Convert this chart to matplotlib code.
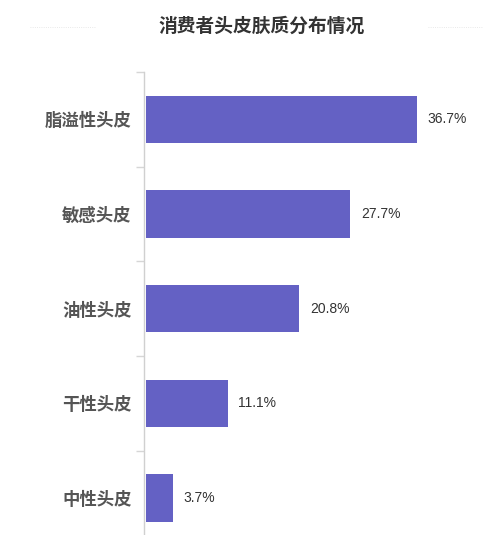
import matplotlib
matplotlib.use("Agg")
import matplotlib.pyplot as plt
from matplotlib.lines import Line2D

plt.rcParams['font.family'] = ['Noto Sans CJK SC', 'DejaVu Sans']

# data
categories = ["脂溢性头皮", "敏感头皮", "油性头皮", "干性头皮", "中性头皮"]
values = [36.7, 27.7, 20.8, 11.1, 3.7]
value_labels = ["36.7%", "27.7%", "20.8%", "11.1%", "3.7%"]

W, H = 483, 535
fig = plt.figure(figsize=(W / 100, H / 100), dpi=100)

# axes: left edge at the axis line, top at the first tick, runs off the bottom
left, right, top, bottom = 144, 470, 72, 535
ax = fig.add_axes([left / W, 1 - bottom / H, (right - left) / W, (bottom - top) / H])

bar_color = "#6461c4"
ypos = list(range(len(categories)))
ax.barh(ypos, values, height=0.5, color=bar_color, left=0.25)

px_per_unit = 7.38
ax.set_xlim(0, (right - left) / px_per_unit)
ax.set_ylim(4 + (535 - 498) / 95, -0.5)

for y, v, lab in zip(ypos, values, value_labels):
    ax.text(v + 0.25 + 1.45, y, lab, va="center", ha="left",
            fontsize=10, color="#333333", family=["Liberation Sans", "DejaVu Sans"])

# category labels
ax.set_yticks(ypos)
ax.set_yticklabels(categories, fontsize=12.5, fontweight="bold", color="#555555")
ax.tick_params(axis="y", which="major", length=0, pad=9)
# small tick marks on band boundaries
ax.set_yticks([-0.5, 0.5, 1.5, 2.5, 3.5], minor=True)
ax.tick_params(axis="y", which="minor", length=6, color="#d6d6d6", width=1)
ax.set_xticks([])

for s in ["top", "right", "bottom"]:
    ax.spines[s].set_visible(False)
ax.spines["left"].set_color("#d0d0d0")
ax.spines["left"].set_linewidth(1)

# title with faint dotted lines on either side
fig.text(262 / W, 1 - 26 / H, "消费者头皮肤质分布情况", ha="center", va="center",
         fontsize=13.5, fontweight="bold", color="#333333")
fig.add_artist(Line2D([30 / W, 95 / W], [1 - 27 / H, 1 - 27 / H],
                      color="#e2e2e2", lw=0.6, linestyle=":"))
fig.add_artist(Line2D([428 / W, 483 / W], [1 - 27 / H, 1 - 27 / H],
                      color="#e2e2e2", lw=0.6, linestyle=":"))

fig.savefig("out.png", dpi=100)
